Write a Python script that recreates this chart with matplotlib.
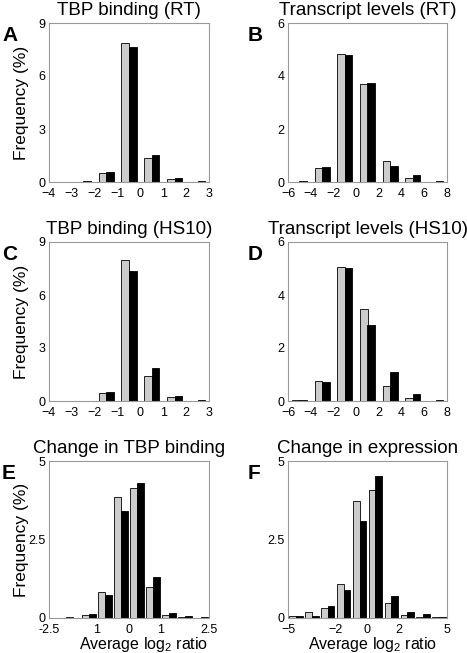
import matplotlib
matplotlib.use("Agg")
import matplotlib.pyplot as plt
import numpy as np

plt.rcParams['font.family'] = ['Liberation Sans', 'DejaVu Sans']
plt.rcParams['mathtext.fontset'] = 'custom'
plt.rcParams['mathtext.rm'] = 'Liberation Sans'
plt.rcParams['mathtext.it'] = 'Liberation Sans'

# bin centres (log2 ratio) for each panel
bins_tbp = [-3.5, -2.5, -1.5, -0.5, 0.5, 1.5, 2.5]
bins_tx = [-5, -3, -1, 1, 3, 5, 7]
bins_dtbp = [-2.25, -1.75, -1.25, -0.75, -0.25, 0.25, 0.75, 1.25, 1.75, 2.25]
bins_dexp = [-4.5, -3.5, -2.5, -1.5, -0.5, 0.5, 1.5, 2.5, 3.5, 4.5]

# frequencies (%), grey = first series, black = second series
a_grey = [0.0, 0.0, 0.49, 7.87, 1.38, 0.19, 0.02]
a_black = [0.0, 0.03, 0.55, 7.62, 1.53, 0.23, 0.03]
b_grey = [0.01, 0.54, 4.82, 3.71, 0.80, 0.16, 0.01]
b_black = [0.02, 0.58, 4.78, 3.74, 0.62, 0.25, 0.05]
c_grey = [0.0, 0.01, 0.43, 8.00, 1.42, 0.23, 0.01]
c_black = [0.0, 0.02, 0.51, 7.36, 1.87, 0.30, 0.03]
d_grey = [0.02, 0.77, 5.04, 3.46, 0.58, 0.13, 0.01]
d_black = [0.02, 0.72, 5.02, 2.87, 1.08, 0.27, 0.02]
e_grey = [0.0, 0.02, 0.10, 0.84, 3.84, 4.15, 0.98, 0.10, 0.03, 0.01]
e_black = [0.0, 0.01, 0.14, 0.72, 3.40, 4.29, 1.30, 0.15, 0.05, 0.02]
f_grey = [0.05, 0.19, 0.33, 1.08, 3.73, 4.09, 0.49, 0.10, 0.03, 0.02]
f_black = [0.06, 0.07, 0.37, 0.90, 3.10, 4.52, 0.70, 0.20, 0.13, 0.03]

titles = ["TBP binding (RT)", "Transcript levels (RT)",
          "TBP binding (HS10)", "Transcript levels (HS10)",
          "Change in TBP binding", "Change in expression"]
letters = ["A", "B", "C", "D", "E", "F"]

xt_tbp = [-4, -3, -2, -1, 0, 1, 2, 3]
xt_tx = [-6, -4, -2, 0, 2, 4, 6, 8]
xt_dtbp = [-2.5, -1, 0, 1, 2.5]
xl_dtbp = ["-2.5", "1", "0", "1", "2.5"]
xt_dexp = [-5, -2, 0, 2, 5]

W, H = 467, 653
fig = plt.figure(figsize=(W / 100, H / 100), dpi=100)


def px_axes(left, top, right, bottom):
    return fig.add_axes([left / W, 1 - bottom / H, (right - left) / W, (bottom - top) / H])


panels = [
    (px_axes(49, 23, 209, 182), bins_tbp, a_grey, a_black, 0.33, (-4, 3), xt_tbp, None, [0, 3, 6, 9]),
    (px_axes(288, 23, 447, 182), bins_tx, b_grey, b_black, 0.66, (-6, 8), xt_tx, None, [0, 2, 4, 6]),
    (px_axes(49, 242, 209, 401), bins_tbp, c_grey, c_black, 0.33, (-4, 3), xt_tbp, None, [0, 3, 6, 9]),
    (px_axes(288, 242, 447, 401), bins_tx, d_grey, d_black, 0.66, (-6, 8), xt_tx, None, [0, 2, 4, 6]),
    (px_axes(49, 461, 209, 618), bins_dtbp, e_grey, e_black, 0.21, (-2.5, 2.5), xt_dtbp, xl_dtbp, [0, 2.5, 5]),
    (px_axes(288, 461, 447, 618), bins_dexp, f_grey, f_black, 0.42, (-5, 5), xt_dexp, None, [0, 2.5, 5]),
]

for i, (ax, centres, grey, black, w, xlim, xt, xl, yt) in enumerate(panels):
    x = np.array(centres)
    ax.bar(x - w / 2, grey, width=w, color="#cccccc", edgecolor="black", linewidth=0.6)
    ax.bar(x + w / 2, black, width=w, color="black", edgecolor="black", linewidth=0.6)
    ax.set_xlim(*xlim)
    ax.set_ylim(yt[0], yt[-1])
    ax.set_xticks(xt)
    if xl:
        ax.set_xticklabels(xl)
    ax.set_yticks(yt)
    ax.set_yticklabels([f"{v:g}" for v in yt])
    ax.tick_params(length=0, labelsize=9)
    ax.tick_params(axis="x", pad=4.5)
    ax.tick_params(axis="y", pad=2.5)
    for s in ax.spines.values():
        s.set_color("#999999")
        s.set_linewidth(0.8)
    ax.set_title(titles[i], fontsize=13.5, pad=6)
    if i % 2 == 0:
        ax.set_ylabel("Frequency (%)", fontsize=12.5)
        ax.yaxis.set_label_coords(-0.125, 0.5)
    pos = ax.get_position()
    fx = 2 / W if i % 2 == 0 else 248 / W
    fig.text(fx, pos.y1 - 3 / H, letters[i], fontsize=15, fontweight="bold", va="top", ha="left")

panels[4][0].set_xlabel("Average log$_2$ ratio", fontsize=11.5)
panels[4][0].xaxis.set_label_coords(0.59, -0.11)
panels[5][0].set_xlabel("Average log$_2$ ratio", fontsize=11.5)
panels[5][0].xaxis.set_label_coords(0.535, -0.11)

fig.savefig("out.png", dpi=100)
